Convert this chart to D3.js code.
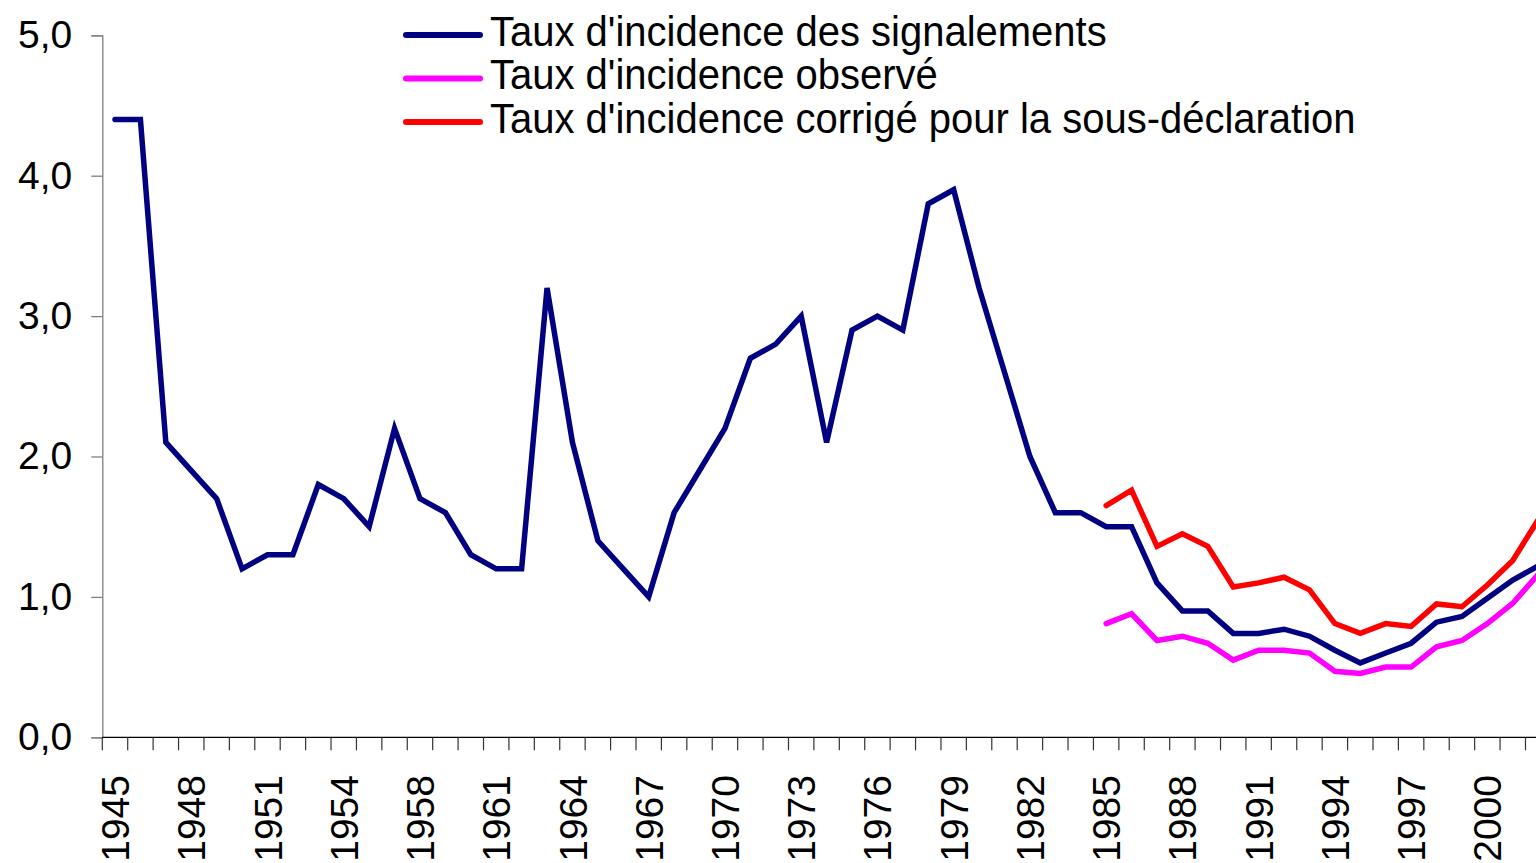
<!DOCTYPE html>
<html>
<head>
<meta charset="utf-8">
<script src="https://cdn.jsdelivr.net/npm/d3@7"></script>
<style>
  html, body { margin: 0; padding: 0; background: #fff; }
  svg { display: block; font-family: "Liberation Sans", Arial, sans-serif; }
</style>
</head>
<body>
<svg id="chart" width="1536" height="863"></svg>
<script>
// ---- data ----
const years = [
  "1945","1946","1947","1948","1949","1950","1951","1952","1953","1954",
  "1955","1956","1958","1959","1960","1961","1962","1963","1964","1965",
  "1966","1967","1968","1969","1970","1971","1972","1973","1974","1975",
  "1976","1977","1978","1979","1980","1981","1982","1983","1984","1985",
  "1986","1987","1988","1989","1990","1991","1992","1993","1994","1995",
  "1996","1997","1998","1999","2000","2001","2002"
];
const signalements = [
  4.4, 4.4, 2.1, 1.9, 1.7, 1.2, 1.3, 1.3, 1.8, 1.7,
  1.5, 2.2, 1.7, 1.6, 1.3, 1.2, 1.2, 3.2, 2.1, 1.4,
  1.2, 1.0, 1.6, 1.9, 2.2, 2.7, 2.8, 3.0, 2.1, 2.9,
  3.0, 2.9, 3.8, 3.9, 3.2, 2.6, 2.0, 1.6, 1.6, 1.5,
  1.5, 1.1, 0.9, 0.9, 0.74, 0.74, 0.77, 0.72, 0.62, 0.53,
  0.60, 0.67, 0.82, 0.86, 0.99, 1.12, 1.22
];
const obsYears = [
  "1985","1986","1987","1988","1989","1990","1991","1992","1993","1994",
  "1995","1996","1997","1998","1999","2000","2001","2002"
];
const observe = [
  0.81, 0.88, 0.69, 0.72, 0.67, 0.55, 0.62, 0.62, 0.60, 0.47,
  0.455, 0.50, 0.50, 0.645, 0.69, 0.81, 0.955, 1.16
];
const corrige = [
  1.65, 1.76, 1.36, 1.45, 1.36, 1.07, 1.10, 1.14, 1.05, 0.81,
  0.74, 0.81, 0.79, 0.95, 0.93, 1.085, 1.26, 1.55
];
const yTicks = [0, 1, 2, 3, 4, 5];
const seriesNames = [
  "Taux d'incidence des signalements",
  "Taux d'incidence observé",
  "Taux d'incidence corrigé pour la sous-déclaration"
];
const seriesColors = ["#000080", "#FF00FF", "#FF0000"];

// ---- layout ----
const svg = d3.select("#chart");
const W = 1536, H = 863;
svg.append("rect").attr("width", W).attr("height", H).attr("fill", "#fff");

const x0 = 102.3, band = 25.414;
const x = d3.scaleBand().domain(years).range([x0, x0 + band * years.length]).paddingInner(0).paddingOuter(0);
const y = d3.scaleLinear().domain([0, 5]).range([737.3, 35.3]);
const fr = d3.formatLocale({decimal: ",", thousands: " ", grouping: [3], currency: ["", " €"]});
const fmt = fr.format(".1f");
const cx = d => x(d) + x.bandwidth() / 2;

// y axis
const yAxis = svg.append("g").attr("transform", `translate(${x0},0)`)
  .call(d3.axisLeft(y).tickValues(yTicks).tickSize(11).tickPadding(19).tickFormat(fmt));
yAxis.select(".domain").attr("stroke", "#808080").attr("stroke-width", 1.3);
yAxis.selectAll(".tick line").attr("stroke", "#808080").attr("stroke-width", 1.3);
yAxis.selectAll(".tick text").attr("font-size", 39).attr("fill", "#000")
  .attr("font-family", "'Liberation Sans', Arial, sans-serif");

// x axis
const xAxisG = svg.append("g");
xAxisG.append("line")
  .attr("x1", x0).attr("x2", x.range()[1])
  .attr("y1", y(0)).attr("y2", y(0))
  .attr("stroke", "#000").attr("stroke-width", 1.3);
const tickPos = years.map(d => x(d)).concat([x.range()[1]]);
xAxisG.selectAll("line.xt").data(tickPos).join("line").attr("class", "xt")
  .attr("x1", d => d).attr("x2", d => d)
  .attr("y1", y(0)).attr("y2", y(0) + 13)
  .attr("stroke", "#333").attr("stroke-width", 1.2);
xAxisG.selectAll("text.xl").data(years.filter((d, i) => i % 3 === 0)).join("text")
  .attr("class", "xl")
  .attr("transform", d => `translate(${cx(d)},775) rotate(-90)`)
  .attr("text-anchor", "end")
  .attr("dy", "0.36em")
  .attr("font-size", 39)
  .attr("fill", "#000")
  .text(d => d);

// lines
const line = d3.line().x(d => cx(d[0])).y(d => y(d[1]));
const sets = [
  d3.zip(years, signalements),
  d3.zip(obsYears, observe),
  d3.zip(obsYears, corrige)
];
[1, 2, 0].forEach(k => {
  svg.append("path").datum(sets[k])
    .attr("d", line)
    .attr("fill", "none")
    .attr("stroke", seriesColors[k])
    .attr("stroke-width", 5.5)
    .attr("stroke-linejoin", "miter")
    .attr("stroke-miterlimit", 4)
    .attr("stroke-linecap", "round");
});

// legend
const leg = svg.append("g");
const legY = [35, 78.5, 122];
seriesNames.forEach((name, i) => {
  leg.append("line")
    .attr("x1", 406).attr("x2", 480)
    .attr("y1", legY[i]).attr("y2", legY[i])
    .attr("stroke", seriesColors[i]).attr("stroke-width", 6)
    .attr("stroke-linecap", "round");
  const t = leg.append("text")
    .attr("x", 490).attr("y", legY[i] + 10.5)
    .attr("font-size", 42).attr("fill", "#000")
    .text(name);
  const len = t.node().getComputedTextLength();
  t.attr("textLength", len * 0.952).attr("lengthAdjust", "spacingAndGlyphs");
});
</script>
</body>
</html>
